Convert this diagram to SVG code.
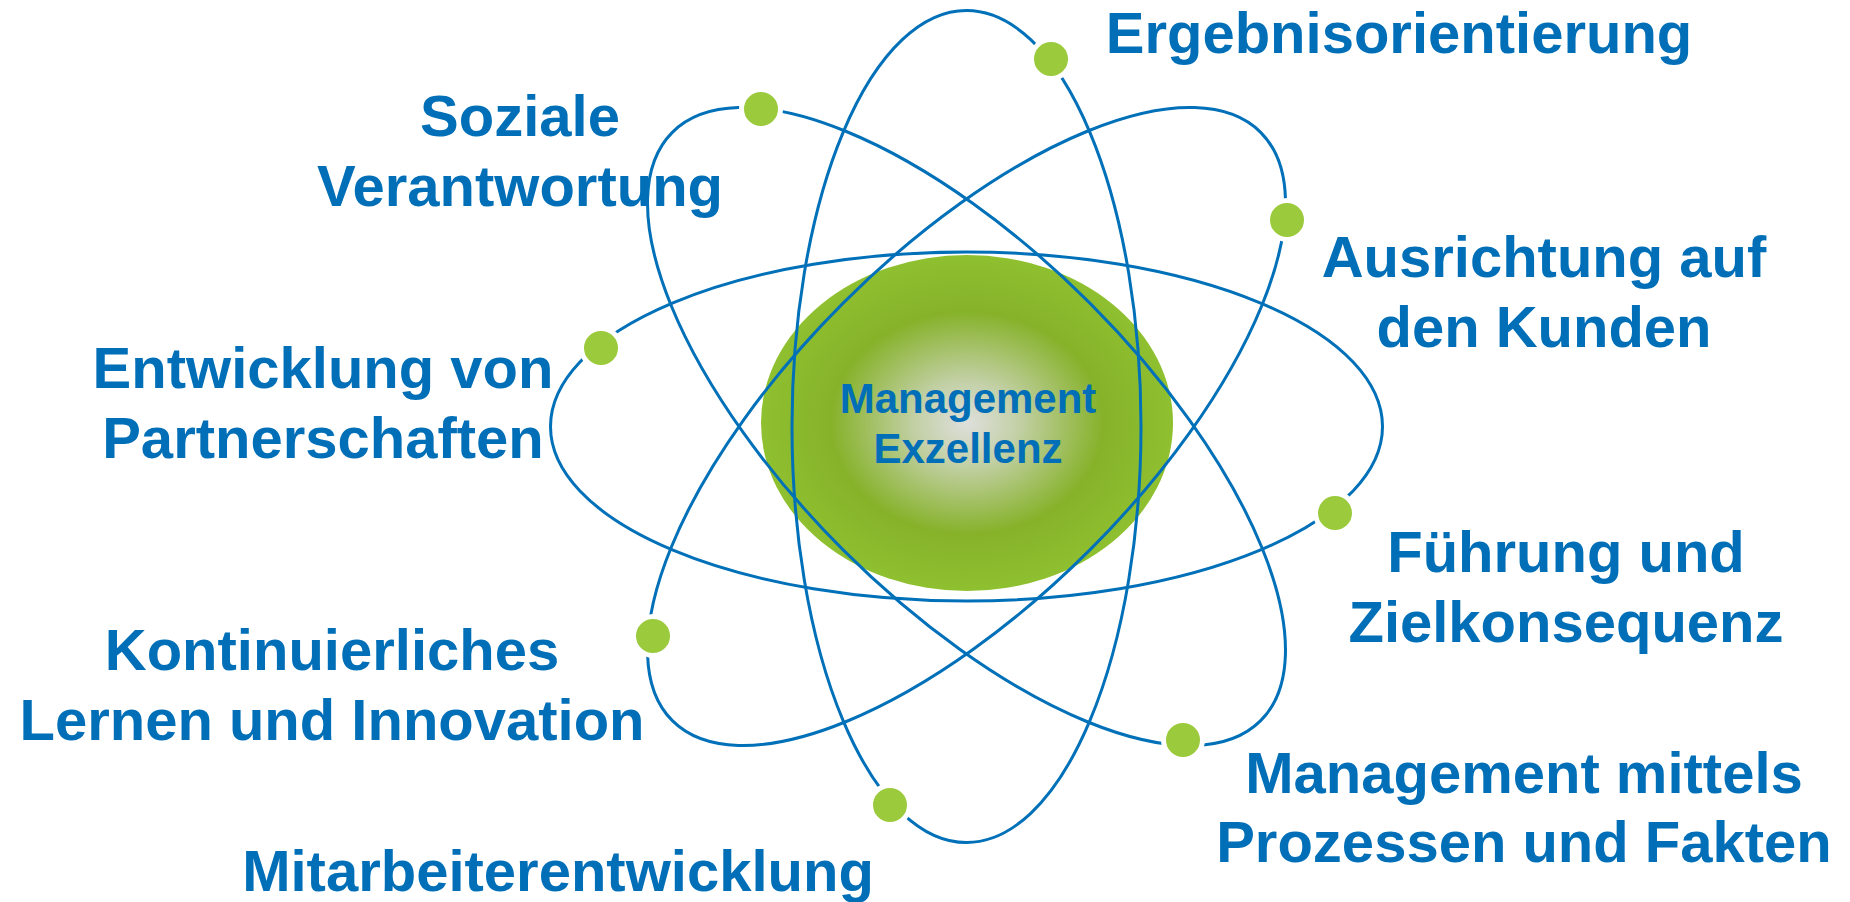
<svg xmlns="http://www.w3.org/2000/svg" width="1850" height="902" viewBox="0 0 1850 902">
  <defs>
    <radialGradient id="core" cx="50%" cy="50%" r="50%">
      <stop offset="0" stop-color="#dedfdc"/>
      <stop offset="0.25" stop-color="#c3d0a6"/>
      <stop offset="0.66" stop-color="#86b22a"/>
      <stop offset="1" stop-color="#8fc030"/>
    </radialGradient>
  </defs>
  <style>
    .orbit { fill: none; stroke: #0070b8; stroke-width: 3; }
    .dot { fill: #9bca3c; stroke: #ffffff; stroke-width: 5; }
    .lbl { font-family: "Liberation Sans", Arial, sans-serif; font-weight: bold; font-size: 58px; fill: #006fb7; text-anchor: middle; }
    .core-lbl { font-family: "Liberation Sans", Arial, sans-serif; font-weight: bold; font-size: 42px; fill: #006fb7; text-anchor: middle; }
  </style>
  <rect width="1850" height="902" fill="#ffffff"/>

  <g id="core-node">
    <ellipse cx="967" cy="423" rx="206" ry="168" fill="url(#core)"/>
  </g>

  <g id="connectors">
    <ellipse class="orbit" cx="966.5" cy="426.5" rx="416" ry="174.5"/>
    <ellipse class="orbit" cx="966.5" cy="426.5" rx="416" ry="174.5" transform="rotate(90 966.5 426.5)"/>
    <ellipse class="orbit" cx="966.5" cy="426.5" rx="416" ry="174.5" transform="rotate(45 966.5 426.5)"/>
    <ellipse class="orbit" cx="966.5" cy="426.5" rx="416" ry="174.5" transform="rotate(-45 966.5 426.5)"/>
  </g>

  <g id="core-label">
    <text class="core-lbl" x="968" y="413">Management</text>
    <text class="core-lbl" x="968" y="463">Exzellenz</text>
  </g>

  <g id="ergebnisorientierung">
    <circle class="dot" cx="1051" cy="59" r="19.5"/>
    <text class="lbl" x="1399" y="53">Ergebnisorientierung</text>
  </g>
  <g id="soziale-verantwortung">
    <circle class="dot" cx="761" cy="109" r="19.5"/>
    <text class="lbl" x="520" y="136">Soziale</text>
    <text class="lbl" x="520" y="206">Verantwortung</text>
  </g>
  <g id="ausrichtung-kunden">
    <circle class="dot" cx="1287" cy="220" r="19.5"/>
    <text class="lbl" x="1544" y="277">Ausrichtung auf</text>
    <text class="lbl" x="1544" y="347">den Kunden</text>
  </g>
  <g id="entwicklung-partnerschaften">
    <circle class="dot" cx="601" cy="348" r="19.5"/>
    <text class="lbl" x="323" y="388">Entwicklung von</text>
    <text class="lbl" x="323" y="458">Partnerschaften</text>
  </g>
  <g id="fuehrung-zielkonsequenz">
    <circle class="dot" cx="1335" cy="513" r="19.5"/>
    <text class="lbl" x="1566" y="572">Führung und</text>
    <text class="lbl" x="1566" y="642">Zielkonsequenz</text>
  </g>
  <g id="lernen-innovation">
    <circle class="dot" cx="653" cy="636" r="19.5"/>
    <text class="lbl" x="332" y="670">Kontinuierliches</text>
    <text class="lbl" x="332" y="740">Lernen und Innovation</text>
  </g>
  <g id="prozesse-fakten">
    <circle class="dot" cx="1183" cy="740" r="19.5"/>
    <text class="lbl" x="1524" y="793">Management mittels</text>
    <text class="lbl" x="1524" y="862">Prozessen und Fakten</text>
  </g>
  <g id="mitarbeiterentwicklung">
    <circle class="dot" cx="890" cy="805" r="19.5"/>
    <text class="lbl" x="558" y="891">Mitarbeiterentwicklung</text>
  </g>
</svg>
